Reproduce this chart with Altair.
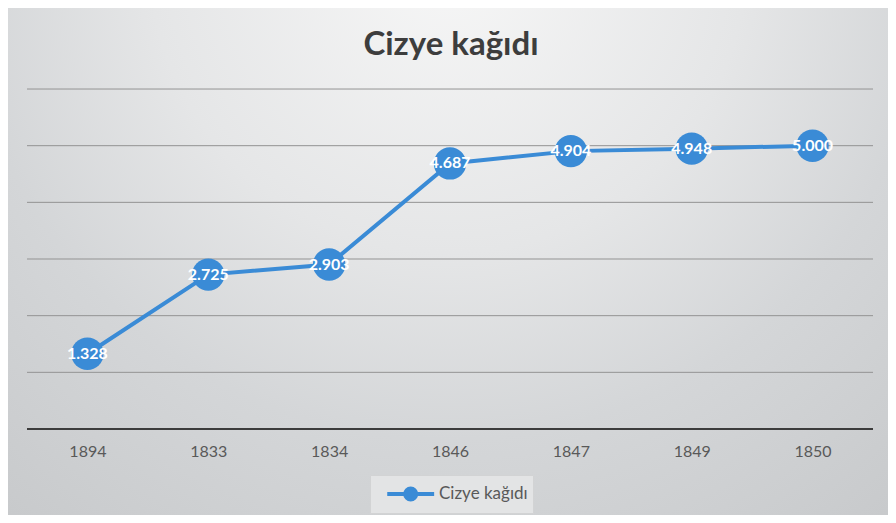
import altair as alt
import pandas as pd

# ---- data ----
years = ["1894", "1833", "1834", "1846", "1847", "1849", "1850"]
values = [1.328, 2.725, 2.903, 4.687, 4.904, 4.948, 5.000]
series_name = "Cizye kağıdı"
chart_title = "Cizye kağıdı"
grid_values = [1, 2, 3, 4, 5, 6]
baseline_value = [0]

BLUE = "#3a8bd6"
FONT = "Lato"
W, H = 846, 507
Y_DOMAIN = [-1.518, 7.43]

df = pd.DataFrame({"year": years, "value": values, "series": [series_name] * len(years)})
grid_df = pd.DataFrame({"g": grid_values})
base_df = pd.DataFrame({"g": baseline_value})

x_enc = alt.X(
    "year:N",
    sort=None,
    scale=alt.Scale(type="point", padding=0.5),
    axis=alt.Axis(
        title=None, labelAngle=0, offset=-86, ticks=False, domain=False,
        labelPadding=14, labelColor="#595959", labelFontSize=16, labelFont=FONT,
        grid=False, zindex=1,
    ),
)
y_scale = alt.Scale(domain=Y_DOMAIN, nice=False, zero=False)
y_enc = alt.Y("value:Q", scale=y_scale, axis=None)

# line-with-marker legend symbol (shifted right inside the legend box)
legend_path = "M-0.15,0H3.85M1.38,0A0.47,0.47,0,1,0,2.32,0A0.47,0.47,0,1,0,1.38,0Z"
color_enc = alt.Color(
    "series:N",
    scale=alt.Scale(range=[BLUE]),
    legend=alt.Legend(
        orient="none", legendX=343, legendY=467, title=None,
        fillColor="#e3e4e5", strokeColor="#d2d3d4", padding=5,
        symbolType=legend_path, symbolSize=550, symbolStrokeWidth=4,
        symbolFillColor=BLUE, symbolStrokeColor=BLUE,
        labelFont=FONT, labelFontSize=17, labelColor="#595959", labelOffset=36,
        zindex=1,
    ),
)

gradient = {
    "gradient": "radial",
    "x1": 0.5, "y1": 0.15, "r1": 0,
    "x2": 0.5, "y2": 0.15, "r2": 0.85,
    "stops": [
        {"offset": 0, "color": "#f7f7f7"},
        {"offset": 0.4, "color": "#e5e6e7"},
        {"offset": 0.65, "color": "#d4d6d8"},
        {"offset": 1, "color": "#c6c8ca"},
    ],
}

bg = alt.Chart(pd.DataFrame({"k": [0]})).mark_rect(fill=gradient, clip=False).encode(
    x=alt.value(-19), x2=alt.value(W + 15), y=alt.value(0), y2=alt.value(H)
)

grid = alt.Chart(grid_df).mark_rule(color="#939393", strokeWidth=1).encode(
    y=alt.Y("g:Q", scale=y_scale, axis=None), x=alt.value(0), x2=alt.value(W)
)
baseline = alt.Chart(base_df).mark_rule(color="#3c3c3c", strokeWidth=2.2).encode(
    y=alt.Y("g:Q", scale=y_scale, axis=None), x=alt.value(0), x2=alt.value(W)
)

base = alt.Chart(df)
line = base.mark_line(strokeWidth=4).encode(x=x_enc, y=y_enc, color=color_enc)
points = base.mark_point(filled=True, size=1050, opacity=1, shape="circle").encode(
    x=x_enc, y=y_enc, color=color_enc
)
labels = base.mark_text(
    color="white", fontWeight="bold", fontSize=16, font=FONT, baseline="middle", align="center"
).encode(x=x_enc, y=y_enc, text=alt.Text("value:Q", format=".3f"))

title = alt.Chart(pd.DataFrame({"t": [chart_title]})).mark_text(
    font=FONT, fontSize=33, fontWeight="bold", color="#3d3d3d", baseline="middle", align="center"
).encode(text="t:N", x=alt.value(424), y=alt.value(37))

chart = (
    alt.layer(bg, grid, baseline, line, points, labels, title)
    .properties(
        width=W, height=H,
        padding={"left": 19, "right": 15, "top": 0, "bottom": 0},
        autosize="none",
        background="#cdd0d2",
    )
    .configure_view(stroke=None)
)

chart.save("out.html", embed_options={"renderer": "svg", "actions": False})
